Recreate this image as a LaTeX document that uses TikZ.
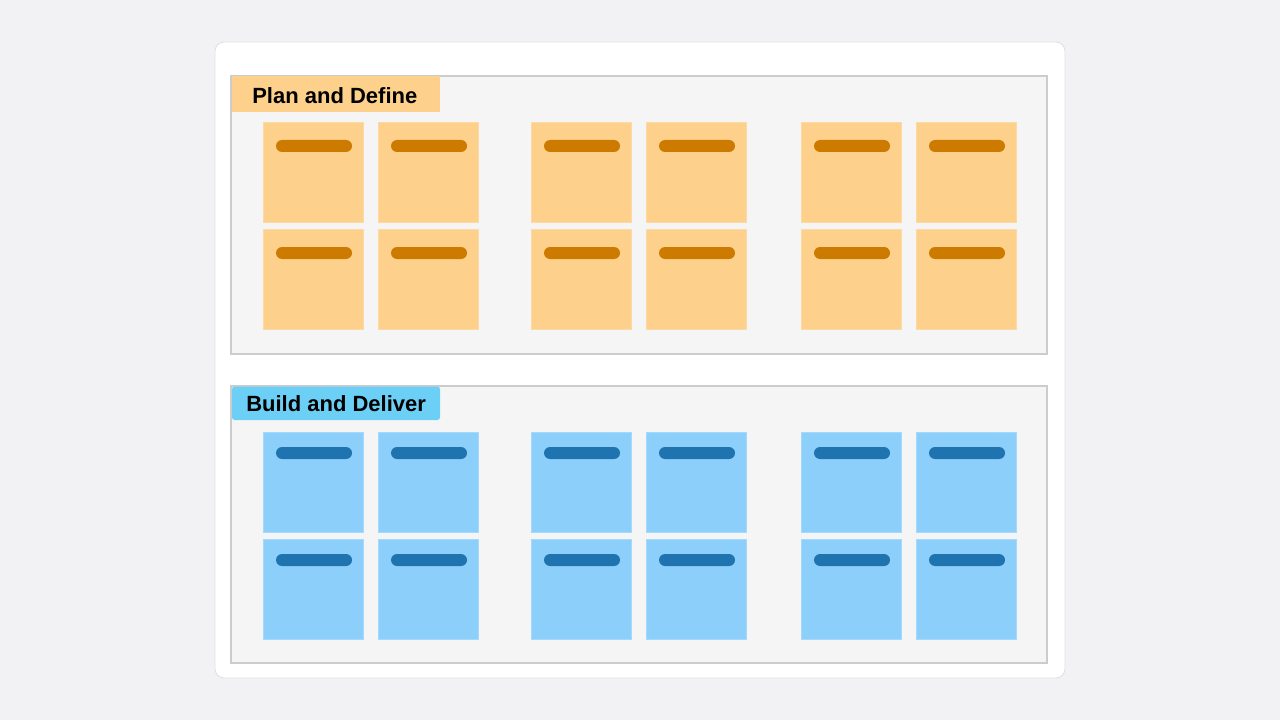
\documentclass[tikz,border=0pt]{standalone}
\usepackage{fontspec}
\setmainfont{Liberation Sans}

\definecolor{pagegray}{RGB}{242,242,244}
\definecolor{framegray}{RGB}{245,245,245}
\definecolor{lineGray}{RGB}{204,204,206}
\definecolor{planfill}{RGB}{253,209,140}
\definecolor{planbar}{RGB}{204,122,0}
\definecolor{buildfill}{RGB}{140,207,251}
\definecolor{buildbar}{RGB}{31,116,176}
\definecolor{buildtab}{RGB}{108,207,246}

\begin{document}
\begin{tikzpicture}[x=0.75pt,y=0.75pt,yscale=-1,xscale=1,
    section/.style={draw=lineGray,line width=1.1pt,fill=framegray},
    tab/.style={anchor=west,inner sep=0pt,font=\bfseries\fontsize{16.5}{19}\selectfont},
    sticky/.style={draw=#1!80!white,line width=0.4pt,fill=#1},
    stickybar/.style={fill=#1,rounded corners=4.5pt}]

    % page and card
    \fill[pagegray] (0,0) rectangle (1280,720);
    \draw[lineGray!60,line width=0.6pt,fill=white,rounded corners=7pt] (215,42) rectangle (1065,678);

    % Plan and Define
    \draw[section] (231,76) rectangle (1047,354);
    \fill[planfill] (231.5,76.5) rectangle (440,112);
    \node[tab] (planlabel) at (252,96) {Plan and Define};
    \foreach \x in {263,378,531,646,801,916}
      \foreach \y in {122,229} {
        \draw[sticky=planfill] (\x,\y) rectangle ++(100,100);
        \fill[stickybar=planbar] (\x+13,\y+18) rectangle ++(76,12);
      }

    % Build and Deliver
    \draw[section] (231,386) rectangle (1047,663);
    \fill[buildtab,rounded corners=2pt] (232,386.5) rectangle (440,420);
    \node[tab] (buildlabel) at (246,404) {Build and Deliver};
    \foreach \x in {263,378,531,646,801,916}
      \foreach \y in {432,539} {
        \draw[sticky=buildfill] (\x,\y) rectangle ++(100,100);
        \fill[stickybar=buildbar] (\x+13,\y+15) rectangle ++(76,12);
      }

\end{tikzpicture}
\end{document}
